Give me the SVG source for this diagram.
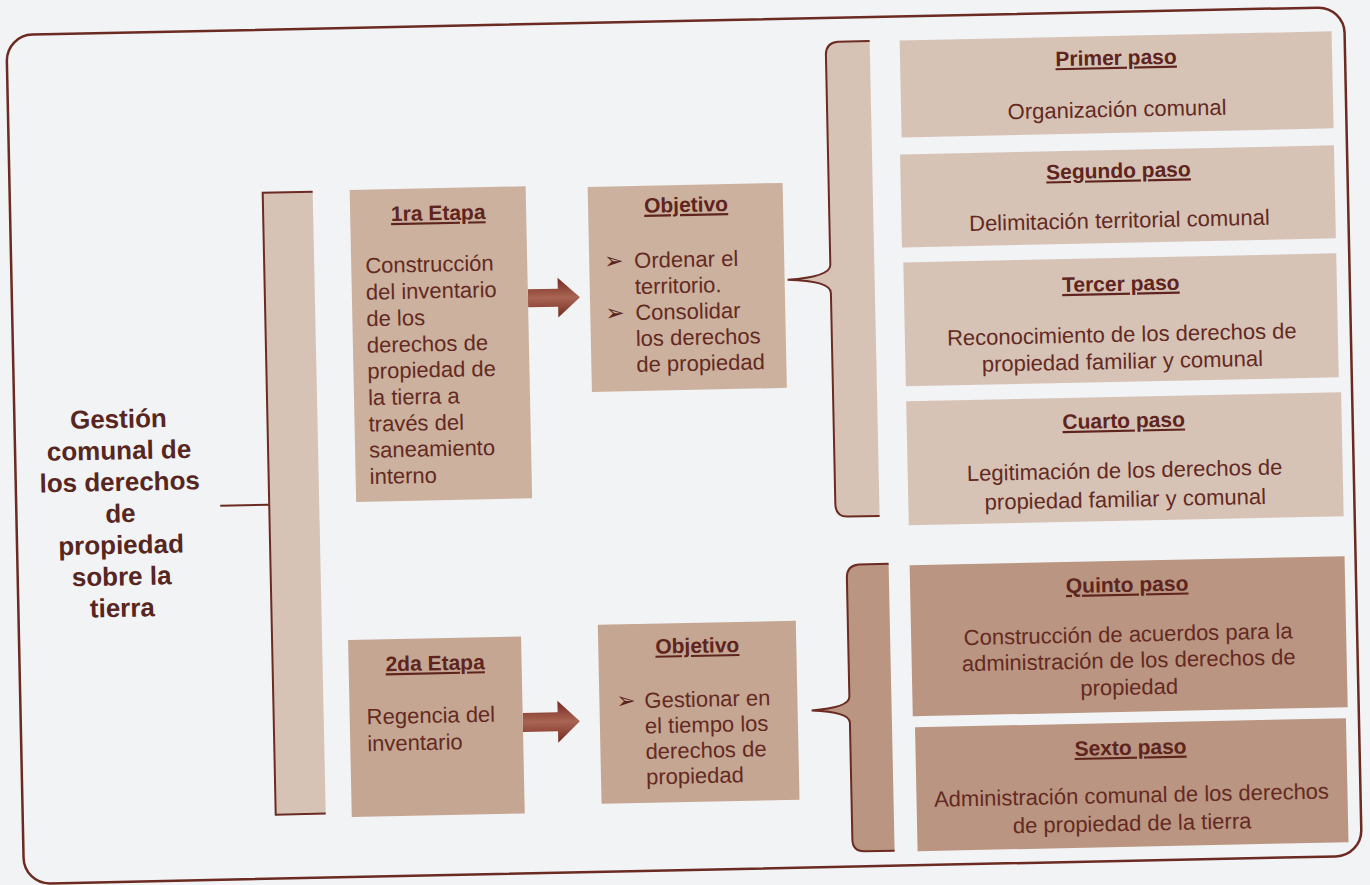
<svg xmlns="http://www.w3.org/2000/svg" width="1370" height="885" viewBox="0 0 1370 885">
<defs>
<linearGradient id="arrowGrad" x1="0" y1="0" x2="0" y2="1">
<stop offset="0" stop-color="#74281f"/>
<stop offset="0.5" stop-color="#a96553"/>
<stop offset="1" stop-color="#74281f"/>
</linearGradient>
<style>
.box-light{fill:#d7c3b6}
.box-mid{fill:#ccb19f}
.box-dark{fill:#c5a693}
.box-deep{fill:#ba9581}
.ln{fill:none;stroke:#6b2a22;stroke-width:2}
text{font-family:"Liberation Sans",Arial,sans-serif}
.t{font-size:21px;font-weight:bold;fill:#5e241d;text-decoration:underline;text-anchor:middle}
.b{font-size:22px;fill:#642a22}
.bc{font-size:22px;fill:#642a22;text-anchor:middle}
.main{font-size:26px;font-weight:bold;fill:#57261f;text-anchor:middle}
.bul{font-family:"DejaVu Sans",sans-serif;font-size:23px;fill:#5a241d}
.arrow{fill:url(#arrowGrad)}
</style>
</defs>
<rect x="0" y="0" width="1370" height="885" fill="#f2f3f5"/>
<g transform="rotate(-1.2 685 442)">
<rect id="frame" x="15" y="21" width="1338" height="849" rx="26" fill="none" stroke="#6b2a22" stroke-width="2.5"/>

<g id="connectors">
<line class="ln" x1="219" y1="496" x2="268" y2="496"/>
<rect x="268" y="184" width="50" height="622" class="box-light"/>
<path class="ln" d="M318,184 L268,184 L268,806 L318,806"/>
<path class="arrow" d="M531,286 L561,286 L561,275 L583,295 L561,315 L561,304 L531,304 Z"/>
<path class="arrow" d="M517,709.5 L552,709.5 L552,698 L574,719 L552,740 L552,728.5 L517,728.5 Z"/>
<path class="box-light" d="M878,45 L846,45 Q834,46 834,58 L834,268 Q834,280 791,282 Q834,284 834,296 L834,507 Q834,520 846,520 L878,520 Z"/>
<path class="ln" d="M878,45 L846,45 Q834,46 834,58 L834,268 Q834,280 791,282 Q834,284 834,296 L834,507 Q834,520 846,520 L878,520"/>
<path class="box-deep" d="M886,568 L856,568 Q844,569 844,581 L844,700 Q844,711 806,713 Q844,715 844,726 L844,843 Q844,855 856,855 L886,855 Z"/>
<path class="ln" d="M886,568 L856,568 Q844,569 844,581 L844,700 Q844,711 806,713 Q844,715 844,726 L844,843 Q844,855 856,855 L886,855"/>
</g>

<g id="gestion">
<text class="main" x="119" y="416">Gestión</text>
<text class="main" x="119" y="447.5">comunal de</text>
<text class="main" x="119" y="479">los derechos</text>
<text class="main" x="119" y="510.5">de</text>
<text class="main" x="119" y="542">propiedad</text>
<text class="main" x="119" y="573.5">sobre la</text>
<text class="main" x="119" y="605">tierra</text>
</g>

<g id="etapa1">
<rect class="box-mid" x="355" y="183" width="176" height="312"/>
<text class="t" x="443" y="215">1ra Etapa</text>
<text class="b" x="369" y="266.5">Construcción</text>
<text class="b" x="369" y="293">del inventario</text>
<text class="b" x="369" y="319.5">de los</text>
<text class="b" x="369" y="346">derechos de</text>
<text class="b" x="369" y="372">propiedad de</text>
<text class="b" x="369" y="398.5">la tierra a</text>
<text class="b" x="369" y="425">través del</text>
<text class="b" x="369" y="451">saneamiento</text>
<text class="b" x="369" y="477.5">interno</text>
</g>

<g id="objetivo1">
<rect class="box-mid" x="593" y="185" width="195" height="205"/>
<text class="t" x="691" y="212">Objetivo</text>
<text class="bul" x="608" y="267">➢</text>
<text class="b" x="638" y="267">Ordenar el</text>
<text class="b" x="638" y="293">territorio.</text>
<text class="bul" x="608" y="319">➢</text>
<text class="b" x="638" y="319">Consolidar</text>
<text class="b" x="638" y="345">los derechos</text>
<text class="b" x="638" y="371">de propiedad</text>
</g>

<g id="etapa2">
<rect class="box-dark" x="344" y="633" width="173" height="177"/>
<text class="t" x="430.5" y="665">2da Etapa</text>
<text class="b" x="361" y="717.5">Regencia del</text>
<text class="b" x="361" y="744.5">inventario</text>
</g>

<g id="objetivo2">
<rect class="box-dark" x="594" y="623" width="198" height="179"/>
<text class="t" x="693" y="653">Objetivo</text>
<text class="bul" x="611" y="707">➢</text>
<text class="b" x="639" y="707">Gestionar en</text>
<text class="b" x="639" y="732.5">el tiempo los</text>
<text class="b" x="639" y="758">derechos de</text>
<text class="b" x="639" y="783.5">propiedad</text>
</g>

<g id="paso1">
<rect class="box-light" x="908" y="45" width="432" height="97"/>
<text class="t" x="1124" y="74">Primer paso</text>
<text class="bc" x="1124" y="126">Organización comunal</text>
</g>

<g id="paso2">
<rect class="box-light" x="906" y="159" width="434" height="93"/>
<text class="t" x="1124" y="187">Segundo paso</text>
<text class="bc" x="1124" y="237">Delimitación territorial comunal</text>
</g>

<g id="paso3">
<rect class="box-light" x="907" y="267" width="433" height="124"/>
<text class="t" x="1124" y="300">Tercer paso</text>
<text class="bc" x="1124" y="351">Reconocimiento de los derechos de</text>
<text class="bc" x="1124" y="378">propiedad familiar y comunal</text>
</g>

<g id="paso4">
<rect class="box-light" x="907" y="406" width="435" height="124"/>
<text class="t" x="1124" y="437">Cuarto paso</text>
<text class="bc" x="1124" y="487">Legitimación de los derechos de</text>
<text class="bc" x="1124" y="516">propiedad familiar y comunal</text>
</g>

<g id="paso5">
<rect class="box-deep" x="907" y="570" width="435" height="151"/>
<text class="t" x="1124" y="601">Quinto paso</text>
<text class="bc" x="1124" y="651">Construcción de acuerdos para la</text>
<text class="bc" x="1124" y="677">administración de los derechos de</text>
<text class="bc" x="1124" y="704">propiedad</text>
</g>

<g id="paso6">
<rect class="box-deep" x="909" y="732" width="431" height="124"/>
<text class="t" x="1124" y="764">Sexto paso</text>
<text class="bc" x="1124" y="812">Administración comunal de los derechos</text>
<text class="bc" x="1124" y="840">de propiedad de la tierra</text>
</g>
</g>
</svg>
